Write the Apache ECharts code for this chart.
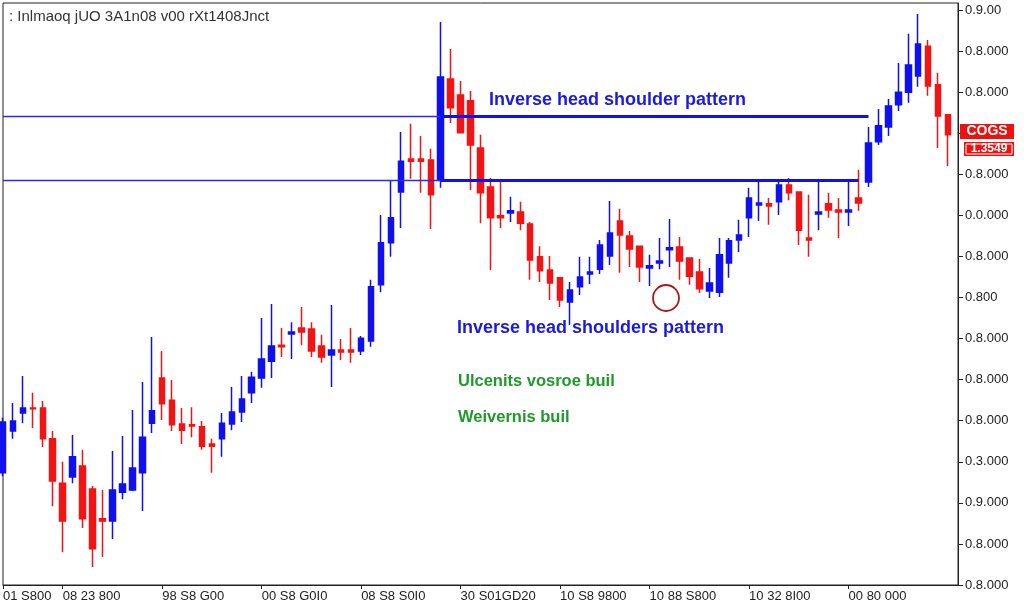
<!DOCTYPE html>
<html><head><meta charset="utf-8">
<script src="https://cdn.jsdelivr.net/npm/echarts@6/dist/echarts.min.js"></script>
<style>html,body{margin:0;padding:0;background:#fff}#c{width:1024px;height:604px}</style>
</head><body><div id="c"></div><script>
// ---------- data ----------
const titleText = ': Inlmaoq jUO 3A1n08 v00 rXt1408Jnct';
const xTickIndex = [0, 6, 16, 26, 36, 46, 56, 65, 75, 85];
const xTickLabels = ['01 S800', '08 23 800', '98 S8 G00', '00 S8 G0I0', '08 S8 S0I0', '30 S01GD20', '10 S8 9800', '10 88 S800', '10 32 8I00', '00 80 000'];
const yTickValues = [0.80, 0.81, 0.82, 0.83, 0.84, 0.85, 0.86, 0.87, 0.88, 0.89, 0.90, 0.91, 0.92, 0.93, 0.94];
const yTickLabels = ['0.8.000', '0.8.000', '0.9.000', '0.3.000', '0.8.000', '0.8.000', '0.8.000', '0.800', '0.8.000', '0.0.000', '0.8.000', '0.8.000', '0.8.000', '0.8.000', '0.9.00'];

const opens  = [0.8273,0.8375,0.8419,0.8431,0.8431,0.8356,0.8248,0.8263,0.8290,0.8234,
                0.8161,0.8156,0.8226,0.8231,0.8273,0.8394,0.8504,0.8450,0.8392,0.8390,
                0.8385,0.8343,0.8356,0.8392,0.8421,0.8468,0.8504,0.8545,0.8584,0.8611,
                0.8626,0.8623,0.8582,0.8560,0.8572,0.8572,0.8570,0.8594,0.8731,0.8833,
                0.8957,0.9037,0.9037,0.9035,0.8986,0.9232,0.9193,0.9179,0.9064,0.8969,
                0.8899,0.8906,0.8908,0.8879,0.8799,0.8767,0.8748,0.8689,0.8726,0.8757,
                0.8769,0.8801,0.8886,0.8850,0.8825,0.8772,0.8784,0.8816,0.8823,0.8796,
                0.8762,0.8716,0.8713,0.8784,0.8840,0.8894,0.8925,0.8928,0.8933,0.8974,
                0.8957,0.8845,0.8903,0.8928,0.8913,0.8908,0.8942,0.8981,0.9079,0.9115,
                0.9169,0.9200,0.9239,0.9312,0.9218,0.9145];
const closes = [0.8397,0.8399,0.8431,0.8429,0.8356,0.8253,0.8156,0.8312,0.8161,0.8088,
                0.8156,0.8231,0.8246,0.8285,0.8360,0.8424,0.8441,0.8390,0.8377,0.8387,
                0.8338,0.8338,0.8394,0.8421,0.8453,0.8506,0.8550,0.8582,0.8580,0.8616,
                0.8616,0.8570,0.8555,0.8572,0.8567,0.8567,0.8601,0.8726,0.8833,0.8894,
                0.9032,0.9032,0.9032,0.8950,0.9237,0.9162,0.9101,0.9071,0.8955,0.8894,
                0.8894,0.8911,0.8881,0.8791,0.8765,0.8735,0.8694,0.8718,0.8750,0.8762,
                0.8828,0.8857,0.8852,0.8818,0.8774,0.8777,0.8789,0.8821,0.8789,0.8752,
                0.8721,0.8735,0.8804,0.8838,0.8852,0.8942,0.8930,0.8923,0.8974,0.8955,
                0.8864,0.8840,0.8908,0.8913,0.8908,0.8913,0.8930,0.9076,0.9118,0.9166,
                0.9200,0.9266,0.9317,0.9215,0.9142,0.9096];
const lows   = [0.8265,0.8356,0.8394,0.8382,0.8336,0.8192,0.8080,0.8248,0.8139,0.8044,
                0.8068,0.8112,0.8209,0.8229,0.8180,0.8370,0.8402,0.8375,0.8343,0.8360,
                0.8329,0.8273,0.8312,0.8377,0.8397,0.8443,0.8480,0.8504,0.8555,0.8550,
                0.8584,0.8555,0.8541,0.8482,0.8548,0.8541,0.8560,0.8580,0.8713,0.8799,
                0.8869,0.8989,0.8955,0.8867,0.8967,0.9125,0.9101,0.8962,0.8881,0.8767,
                0.8869,0.8884,0.8864,0.8743,0.8738,0.8694,0.8677,0.8633,0.8706,0.8733,
                0.8757,0.8779,0.8760,0.8774,0.8738,0.8728,0.8769,0.8774,0.8743,0.8731,
                0.8711,0.8699,0.8701,0.8748,0.8811,0.8847,0.8886,0.8877,0.8901,0.8937,
                0.8828,0.8799,0.8864,0.8894,0.8845,0.8874,0.8911,0.8969,0.9071,0.9093,
                0.9154,0.9174,0.9213,0.9191,0.9064,0.9020];
const highs  = [0.8407,0.8443,0.8509,0.8468,0.8448,0.8375,0.8300,0.8365,0.8329,0.8241,
                0.8231,0.8326,0.8363,0.8426,0.8494,0.8604,0.8570,0.8499,0.8431,0.8433,
                0.8399,0.8356,0.8419,0.8482,0.8509,0.8519,0.8650,0.8684,0.8626,0.8640,
                0.8677,0.8640,0.8609,0.8682,0.8599,0.8626,0.8606,0.8743,0.8901,0.8984,
                0.9103,0.9123,0.9093,0.9062,0.9371,0.9305,0.9227,0.9203,0.9096,0.8991,
                0.8981,0.8945,0.8933,0.8884,0.8825,0.8801,0.8748,0.8738,0.8799,0.8799,
                0.8840,0.8935,0.8916,0.8862,0.8825,0.8804,0.8845,0.8891,0.8847,0.8796,
                0.8794,0.8772,0.8845,0.8845,0.8889,0.8967,0.8981,0.8942,0.8984,0.8991,
                0.8957,0.8950,0.8981,0.8955,0.8942,0.8981,0.9011,0.9115,0.9159,0.9183,
                0.9271,0.9342,0.9390,0.9327,0.9247,0.9145];

const necklineUpper = 0.9141;
const necklineLower = 0.8985;
const patternStartIndex = 44;
const upperEndIndex = 87;
const lowerEndIndex = 86;

// ---------- chart ----------
const BLUE = '#1010ee', RED = '#f01414';
const categories = opens.map((_, i) => String(i)).concat(['']);
const candleData = opens.map((o, i) => [o, closes[i], lows[i], highs[i]]);

const chart = echarts.init(document.getElementById('c'), null, {renderer: 'canvas'});
const FONT = 'Liberation Sans, Arial, sans-serif';

chart.setOption({
  animation: false,
  backgroundColor: '#fff',
  grid: {left: 3, right: 66, top: 3, bottom: 19, show: true, borderColor: '#222', borderWidth: 1, containLabel: false},
  xAxis: {
    type: 'category', data: categories, boundaryGap: false,
    axisLine: {lineStyle: {color: '#222', width: 1}},
    axisTick: {show: true, length: 4, lineStyle: {color: '#222'}, interval: (i) => xTickIndex.includes(i)},
    axisLabel: {
      interval: (i) => xTickIndex.includes(i), align: 'left', margin: 5,
      fontFamily: FONT, fontSize: 13, color: '#222',
      formatter: (v, i) => { const k = xTickIndex.indexOf(i); return k >= 0 ? xTickLabels[k] : ''; }
    },
    splitLine: {show: false}
  },
  yAxis: {
    type: 'value', position: 'right', min: 0.80, max: 0.9417, interval: 0.01, scale: true,
    axisLine: {show: true, lineStyle: {color: '#222', width: 1}},
    axisTick: {show: true, length: 5, lineStyle: {color: '#222'}},
    splitLine: {show: false},
    axisLabel: {
      margin: 7, fontFamily: FONT, fontSize: 13, color: '#222', showMaxLabel: false,
      formatter: (v) => {
        for (let k = 0; k < yTickValues.length; k++) if (Math.abs(v - yTickValues[k]) < 1e-6) return yTickLabels[k];
        return '';
      }
    }
  },
  series: [{
    type: 'candlestick', data: candleData, barWidth: 6, clip: false,
    itemStyle: {color: BLUE, color0: RED, borderColor: BLUE, borderColor0: RED, borderWidth: 1.5},
    markLine: {
      silent: true, symbol: ['none', 'none'], label: {show: false}, animation: false,
      lineStyle: {color: '#2a2aee', width: 1.4, type: 'solid', opacity: 1},
      data: [
        [{coord: [0, necklineUpper], lineStyle: {color: '#2a2aee', width: 1.4}}, {coord: [patternStartIndex, necklineUpper]}],
        [{coord: [0, necklineLower], lineStyle: {color: '#2a2aee', width: 1.4}}, {coord: [patternStartIndex, necklineLower]}],
        [{coord: [patternStartIndex, necklineUpper], lineStyle: {color: BLUE, width: 3}}, {coord: [upperEndIndex, necklineUpper]}],
        [{coord: [patternStartIndex, necklineLower], lineStyle: {color: BLUE, width: 3}}, {coord: [lowerEndIndex, necklineLower]}]
      ]
    }
  }],
  graphic: [
    {type: 'text', left: 7, top: 7, z: 100, style: {text: titleText, font: '15px ' + FONT, fill: '#333', backgroundColor: '#fff', padding: [2, 2]}},
    {type: 'text', left: 489, top: 91, z: 100, style: {text: 'Inverse head shoulder pattern', font: 'bold 18px ' + FONT, fill: '#1a1ae6'}},
    {type: 'text', left: 457, top: 319, z: 100, style: {text: 'Inverse head shoulders pattern', font: 'bold 18px ' + FONT, fill: '#1a1ae6'}},
    {type: 'text', left: 458, top: 373, z: 100, style: {text: 'Ulcenits vosroe buil', font: 'bold 16.5px ' + FONT, fill: '#1f9a2a'}},
    {type: 'text', left: 458, top: 409, z: 100, style: {text: 'Weivernis buil', font: 'bold 16.5px ' + FONT, fill: '#1f9a2a'}},
    {type: 'circle', z: 100, shape: {cx: 666, cy: 298, r: 13}, style: {fill: 'none', stroke: '#b01818', lineWidth: 1.8}},
    {type: 'rect', z: 100, shape: {x: 960, y: 124, width: 54, height: 15}, style: {fill: '#ee1111'}},
    {type: 'text', z: 101, x: 987, y: 131.5, style: {text: 'COGS', font: 'bold 14px ' + FONT, fill: '#fff', align: 'center', verticalAlign: 'middle'}},
    {type: 'rect', z: 100, shape: {x: 964, y: 142, width: 50, height: 14}, style: {fill: '#ee1111'}},
    {type: 'rect', z: 101, shape: {x: 966, y: 144, width: 46, height: 10}, style: {fill: 'none', stroke: '#fff', lineWidth: 1}},
    {type: 'text', z: 102, x: 989, y: 149, style: {text: '1.3549', font: 'bold 12px ' + FONT, fill: '#fff', align: 'center', verticalAlign: 'middle'}}
  ]
});
</script></body></html>
